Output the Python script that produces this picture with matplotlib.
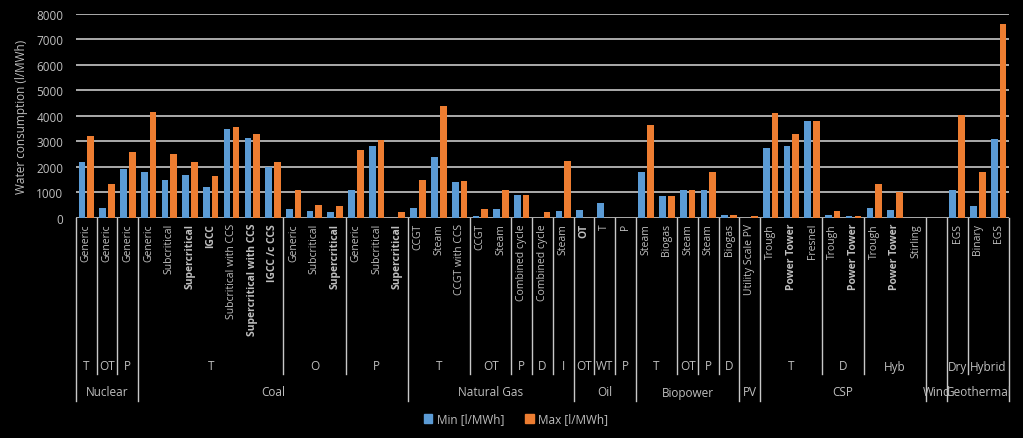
import numpy as np
import matplotlib.pyplot as plt
import matplotlib.patches as mpatches

# bottom level: technology
tech = ["Generic", "Generic", "Generic",
        "Generic", "Subcritical", "Supercritical", "IGCC", "Subcritical with CCS",
        "Supercritical with CCS", "IGCC /c CCS", "Generic", "Subcritical", "Supercritical",
        "Generic", "Subcritical", "Supercritical",
        "CCGT", "Steam", "CCGT with CCS", "CCGT", "Steam", "Combined cycle",
        "Combined cycle", "Steam",
        "OT", "T", "P",
        "Steam", "Biogas", "Steam", "Steam", "Biogas",
        "Utility Scale PV",
        "Trough", "Power Tower", "Fresnel", "Trough", "Power Tower", "Trough",
        "Power Tower", "Stirling",
        "",
        "EGS", "Binary", "EGS"]

# middle level: cooling type
cooling = ["T", "OT", "P",
           "T", "T", "T", "T", "T", "T", "T", "O", "O", "O", "P", "P", "P",
           "T", "T", "T", "OT", "OT", "P", "D", "I",
           "OT", "WT", "P",
           "T", "T", "OT", "P", "D",
           "",
           "T", "T", "T", "D", "D", "Hyb", "Hyb", "Hyb",
           "",
           "Dry", "Hybrid", "Hybrid"]

# top level: fuel / source
source = ["Nuclear"] * 3 + ["Coal"] * 13 + ["Natural Gas"] * 8 + ["Oil"] * 3 + \
         ["Biopower"] * 5 + ["PV"] + ["CSP"] * 8 + ["Wind"] + ["Geothermal"] * 3

min_vals = [2200, 380, 1900, 1800, 1500, 1700, 1200, 3500, 3150, 2000,
            370, 260, 240, 1100, 2800, 0, 400, 2400, 1400, 70,
            340, 900, 0, 270, 310, 600, 0, 1800, 880, 1100,
            1100, 120, 0, 2750, 2800, 3800, 130, 90, 400, 330,
            0, 0, 1100, 460, 3100]
max_vals = [3200, 1320, 2600, 4150, 2500, 2200, 1650, 3550, 3300, 2180,
            1100, 500, 460, 2650, 3050, 240, 1500, 4380, 1450, 370,
            1100, 900, 240, 2250, 0, 0, 0, 3650, 880, 1100,
            1800, 110, 65, 4100, 3300, 3800, 290, 90, 1350, 1020,
            0, 0, 4050, 1800, 7600]

bold_idx = {5, 6, 8, 9, 12, 15, 24, 34, 37, 39}

BLUE = "#5B9BD5"
ORANGE = "#ED7D31"
TXT = "#bfbfbf"
GRID = "#c8c8c8"

plt.rcParams["font.family"] = ["Open Sans", "DejaVu Sans"]

W, H = 1023, 439
fig = plt.figure(figsize=(W / 100, H / 100), dpi=100, facecolor="black")
x0, x1, y0, y1 = 76, 1009, 219, 14.7
ax = fig.add_axes([x0 / W, 1 - y0 / H, (x1 - x0) / W, (y0 - y1) / H])
ax.set_facecolor("black")

x = np.arange(len(tech))
ax.bar(x - 0.21, min_vals, 0.32, color=BLUE, zorder=3)
ax.bar(x + 0.21, max_vals, 0.32, color=ORANGE, zorder=3)

ax.set_xlim(-0.5, len(tech) - 0.5)
ax.set_ylim(0, 8000)
ax.set_yticks(np.arange(0, 8001, 1000))
ax.set_xticks([])
ax.yaxis.grid(True, color=GRID, linewidth=1.2, zorder=1)
for s in ax.spines.values():
    s.set_visible(False)
ax.tick_params(axis="y", length=0, pad=9, labelsize=8.5, labelcolor=TXT)
ax.set_ylabel("Water consumption (l/MWh)", color=TXT, fontsize=8.5, labelpad=6)


def fy(py):
    # figure pixel row -> axes fraction
    return (y0 - py) / (y0 - y1)


tr = ax.get_xaxis_transform()

# rotated technology labels
for i, lab in enumerate(tech):
    ax.text(i, fy(224), lab, rotation=90, ha="center", va="top", transform=tr,
            color=TXT, fontsize=7.5, fontweight="bold" if i in bold_idx else "normal")


def runs(keys):
    out = []
    start = 0
    for i in range(1, len(keys) + 1):
        if i == len(keys) or keys[i] != keys[start]:
            out.append((start, i - 1))
            start = i
    return out


src_runs = runs(source)
cool_runs = runs(list(zip(source, cooling)))
src_edges = {a - 0.5 for a, b in src_runs} | {len(tech) - 0.5}

for a, b in cool_runs:
    ax.text((a + b) / 2, fy(367), cooling[a], ha="center", va="center", transform=tr,
            color=TXT, fontsize=8.5)
    if a - 0.5 not in src_edges:
        ax.plot([a - 0.5, a - 0.5], [0, fy(375)], transform=tr, color=GRID,
                linewidth=1, clip_on=False)

for a, b in src_runs:
    ax.text((a + b) / 2, fy(393), source[a], ha="center", va="center", transform=tr,
            color=TXT, fontsize=8.5)

for e in src_edges:
    ax.plot([e, e], [0, fy(402)], transform=tr, color=GRID, linewidth=1, clip_on=False)

handles = [mpatches.Patch(color=BLUE, label="Min [l/MWh]"),
           mpatches.Patch(color=ORANGE, label="Max [l/MWh]")]
leg = fig.legend(handles=handles, loc="center", ncol=2, frameon=False,
                 bbox_to_anchor=(516 / W, 1 - 420 / H), fontsize=8.5,
                 handlelength=0.7, handleheight=0.7, handletextpad=0.4,
                 columnspacing=1.8)
for t in leg.get_texts():
    t.set_color(TXT)

fig.savefig("out.png", dpi=100, facecolor="black")
